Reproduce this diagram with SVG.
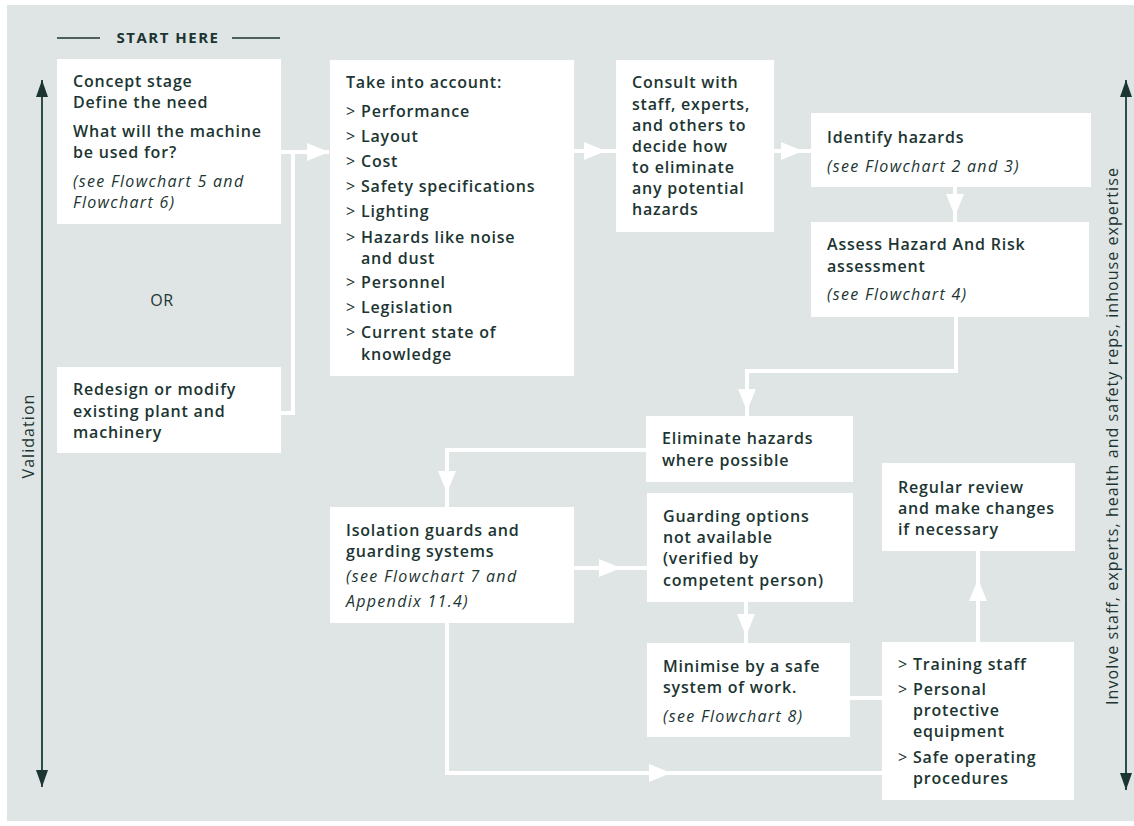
<svg xmlns="http://www.w3.org/2000/svg" width="1134" height="826" viewBox="0 0 1134 826">
<defs>
<style>
.bg{fill:#dfe4e4}
.box{fill:#ffffff}
text{font-family:"Open Sans","Liberation Sans",sans-serif;fill:#1c3532}
.t{font-size:16px;font-weight:600;letter-spacing:0.8px}
.i{font-size:16px;font-weight:400;font-style:italic;letter-spacing:1.3px}
.b{font-size:16px;font-weight:400}
.h{font-size:15px;font-weight:700;letter-spacing:1.5px}
.side{font-size:16px;font-weight:500;letter-spacing:1.05px}
.con{fill:none;stroke:#ffffff;stroke-width:4}
.dark{fill:none;stroke:#2e4c48;stroke-width:2}
</style>
<marker id="wa" viewBox="0 0 22 18" refX="22" refY="9" markerWidth="22" markerHeight="18" markerUnits="userSpaceOnUse" orient="auto">
<path d="M0,0 L22,9 L0,18 Z" fill="#ffffff"/>
</marker>
<marker id="da" viewBox="0 0 17 12" refX="17" refY="6" markerWidth="17" markerHeight="12" markerUnits="userSpaceOnUse" orient="auto">
<path d="M0,0 L17,6 L0,12 Z" fill="#1c3532"/>
</marker>
</defs>
<rect class="bg" x="7" y="5" width="1127" height="816"/>

<g id="header">
<line x1="57" y1="38" x2="100" y2="38" stroke="#1c3532" stroke-width="1.5"/>
<line x1="232" y1="38" x2="280" y2="38" stroke="#1c3532" stroke-width="1.5"/>
<text class="h" x="168" y="43" text-anchor="middle">START HERE</text>
</g>

<g id="validation">
<path class="dark" d="M42,436 V80" marker-end="url(#da)"/>
<path class="dark" d="M42,436 V787" marker-end="url(#da)"/>
<text class="side" transform="translate(34,436) rotate(-90)" text-anchor="middle">Validation</text>
</g>

<g id="involve">
<path class="dark" d="M1126,436 V80" marker-end="url(#da)"/>
<path class="dark" d="M1126,436 V790" marker-end="url(#da)"/>
<text class="side" transform="translate(1118,436) rotate(-90)" text-anchor="middle">Involve staff, experts, health and safety reps, inhouse expertise</text>
</g>

<g id="connectors">
<path class="con" d="M281,152 H329" marker-end="url(#wa)"/>
<path class="con" d="M281,413 H293 V152"/>
<path class="con" d="M574,151 H606" marker-end="url(#wa)"/>
<path class="con" d="M604,151 H617"/>
<path class="con" d="M774,151 H803" marker-end="url(#wa)"/>
<path class="con" d="M800,151 H812"/>
<path class="con" d="M955,187 V216" marker-end="url(#wa)"/>
<path class="con" d="M955,213 V223"/>
<path class="con" d="M956,317 V371 H747 V411" marker-end="url(#wa)"/>
<path class="con" d="M747,408 V417"/>
<path class="con" d="M646,450 H447 V493" marker-end="url(#wa)"/>
<path class="con" d="M447,490 V508"/>
<path class="con" d="M574,568 H621" marker-end="url(#wa)"/>
<path class="con" d="M618,568 H648"/>
<path class="con" d="M746,602 V636" marker-end="url(#wa)"/>
<path class="con" d="M746,633 V644"/>
<path class="con" d="M850,698 H883"/>
<path class="con" d="M447,623 V773 H671" marker-end="url(#wa)"/>
<path class="con" d="M668,773 H883"/>
<path class="con" d="M978,643 V579" marker-end="url(#wa)"/>
<path class="con" d="M978,582 V550"/>
</g>

<g id="concept">
<rect class="box" x="57" y="59" width="224" height="165"/>
<text class="t" x="73" y="87">Concept stage</text>
<text class="t" x="73" y="108">Define the need</text>
<text class="t" x="73" y="137">What will the machine</text>
<text class="t" x="73" y="158">be used for?</text>
<text class="i" x="73" y="187">(see Flowchart 5 and</text>
<text class="i" x="73" y="208">Flowchart 6)</text>
</g>

<g id="or">
<text class="b" x="162" y="306" text-anchor="middle" style="font-weight:500;letter-spacing:0.6px">OR</text>
</g>

<g id="redesign">
<rect class="box" x="57" y="367" width="224" height="86"/>
<text class="t" x="73" y="395">Redesign or modify</text>
<text class="t" x="73" y="417">existing plant and</text>
<text class="t" x="73" y="438">machinery</text>
</g>

<g id="account">
<rect class="box" x="330" y="60" width="244" height="316"/>
<text class="t" x="346" y="88">Take into account:</text>
<text x="346" y="117"><tspan class="b">&gt; </tspan><tspan class="t" x="361">Performance</tspan></text>
<text x="346" y="142"><tspan class="b">&gt; </tspan><tspan class="t" x="361">Layout</tspan></text>
<text x="346" y="167"><tspan class="b">&gt; </tspan><tspan class="t" x="361">Cost</tspan></text>
<text x="346" y="192"><tspan class="b">&gt; </tspan><tspan class="t" x="361">Safety specifications</tspan></text>
<text x="346" y="217"><tspan class="b">&gt; </tspan><tspan class="t" x="361">Lighting</tspan></text>
<text x="346" y="243"><tspan class="b">&gt; </tspan><tspan class="t" x="361">Hazards like noise</tspan></text>
<text class="t" x="361" y="264">and dust</text>
<text x="346" y="288"><tspan class="b">&gt; </tspan><tspan class="t" x="361">Personnel</tspan></text>
<text x="346" y="313"><tspan class="b">&gt; </tspan><tspan class="t" x="361">Legislation</tspan></text>
<text x="346" y="338"><tspan class="b">&gt; </tspan><tspan class="t" x="361">Current state of</tspan></text>
<text class="t" x="361" y="360">knowledge</text>
</g>

<g id="consult">
<rect class="box" x="616" y="60" width="158" height="172"/>
<text class="t" x="632" y="88">Consult with</text>
<text class="t" x="632" y="110">staff, experts,</text>
<text class="t" x="632" y="131">and others to</text>
<text class="t" x="632" y="152">decide how</text>
<text class="t" x="632" y="173">to eliminate</text>
<text class="t" x="632" y="194">any potential</text>
<text class="t" x="632" y="215">hazards</text>
</g>

<g id="identify">
<rect class="box" x="811" y="113" width="280" height="74"/>
<text class="t" x="827" y="143">Identify hazards</text>
<text class="i" x="827" y="172">(see Flowchart 2 and 3)</text>
</g>

<g id="assess">
<rect class="box" x="811" y="222" width="278" height="95"/>
<text class="t" x="827" y="250">Assess Hazard And Risk</text>
<text class="t" x="827" y="272">assessment</text>
<text class="i" x="827" y="300">(see Flowchart 4)</text>
</g>

<g id="eliminate">
<rect class="box" x="646" y="416" width="207" height="66"/>
<text class="t" x="662" y="444">Eliminate hazards</text>
<text class="t" x="662" y="466">where possible</text>
</g>

<g id="isolation">
<rect class="box" x="330" y="507" width="244" height="116"/>
<text class="t" x="346" y="536">Isolation guards and</text>
<text class="t" x="346" y="557">guarding systems</text>
<text class="i" x="346" y="582">(see Flowchart 7 and</text>
<text class="i" x="346" y="607">Appendix 11.4)</text>
</g>

<g id="guarding">
<rect class="box" x="647" y="493" width="206" height="109"/>
<text class="t" x="663" y="522">Guarding options</text>
<text class="t" x="663" y="543">not available</text>
<text class="t" x="663" y="564">(verified by</text>
<text class="t" x="663" y="586">competent person)</text>
</g>

<g id="minimise">
<rect class="box" x="647" y="643" width="203" height="94"/>
<text class="t" x="663" y="672">Minimise by a safe</text>
<text class="t" x="663" y="693">system of work.</text>
<text class="i" x="663" y="722">(see Flowchart 8)</text>
</g>

<g id="review">
<rect class="box" x="882" y="463" width="193" height="88"/>
<text class="t" x="898" y="493">Regular review</text>
<text class="t" x="898" y="514">and make changes</text>
<text class="t" x="898" y="535">if necessary</text>
</g>

<g id="measures">
<rect class="box" x="882" y="642" width="192" height="158"/>
<text x="898" y="670"><tspan class="b">&gt; </tspan><tspan class="t" x="913">Training staff</tspan></text>
<text x="898" y="695"><tspan class="b">&gt; </tspan><tspan class="t" x="913">Personal</tspan></text>
<text class="t" x="913" y="716">protective</text>
<text class="t" x="913" y="737">equipment</text>
<text x="898" y="763"><tspan class="b">&gt; </tspan><tspan class="t" x="913">Safe operating</tspan></text>
<text class="t" x="913" y="784">procedures</text>
</g>
</svg>
